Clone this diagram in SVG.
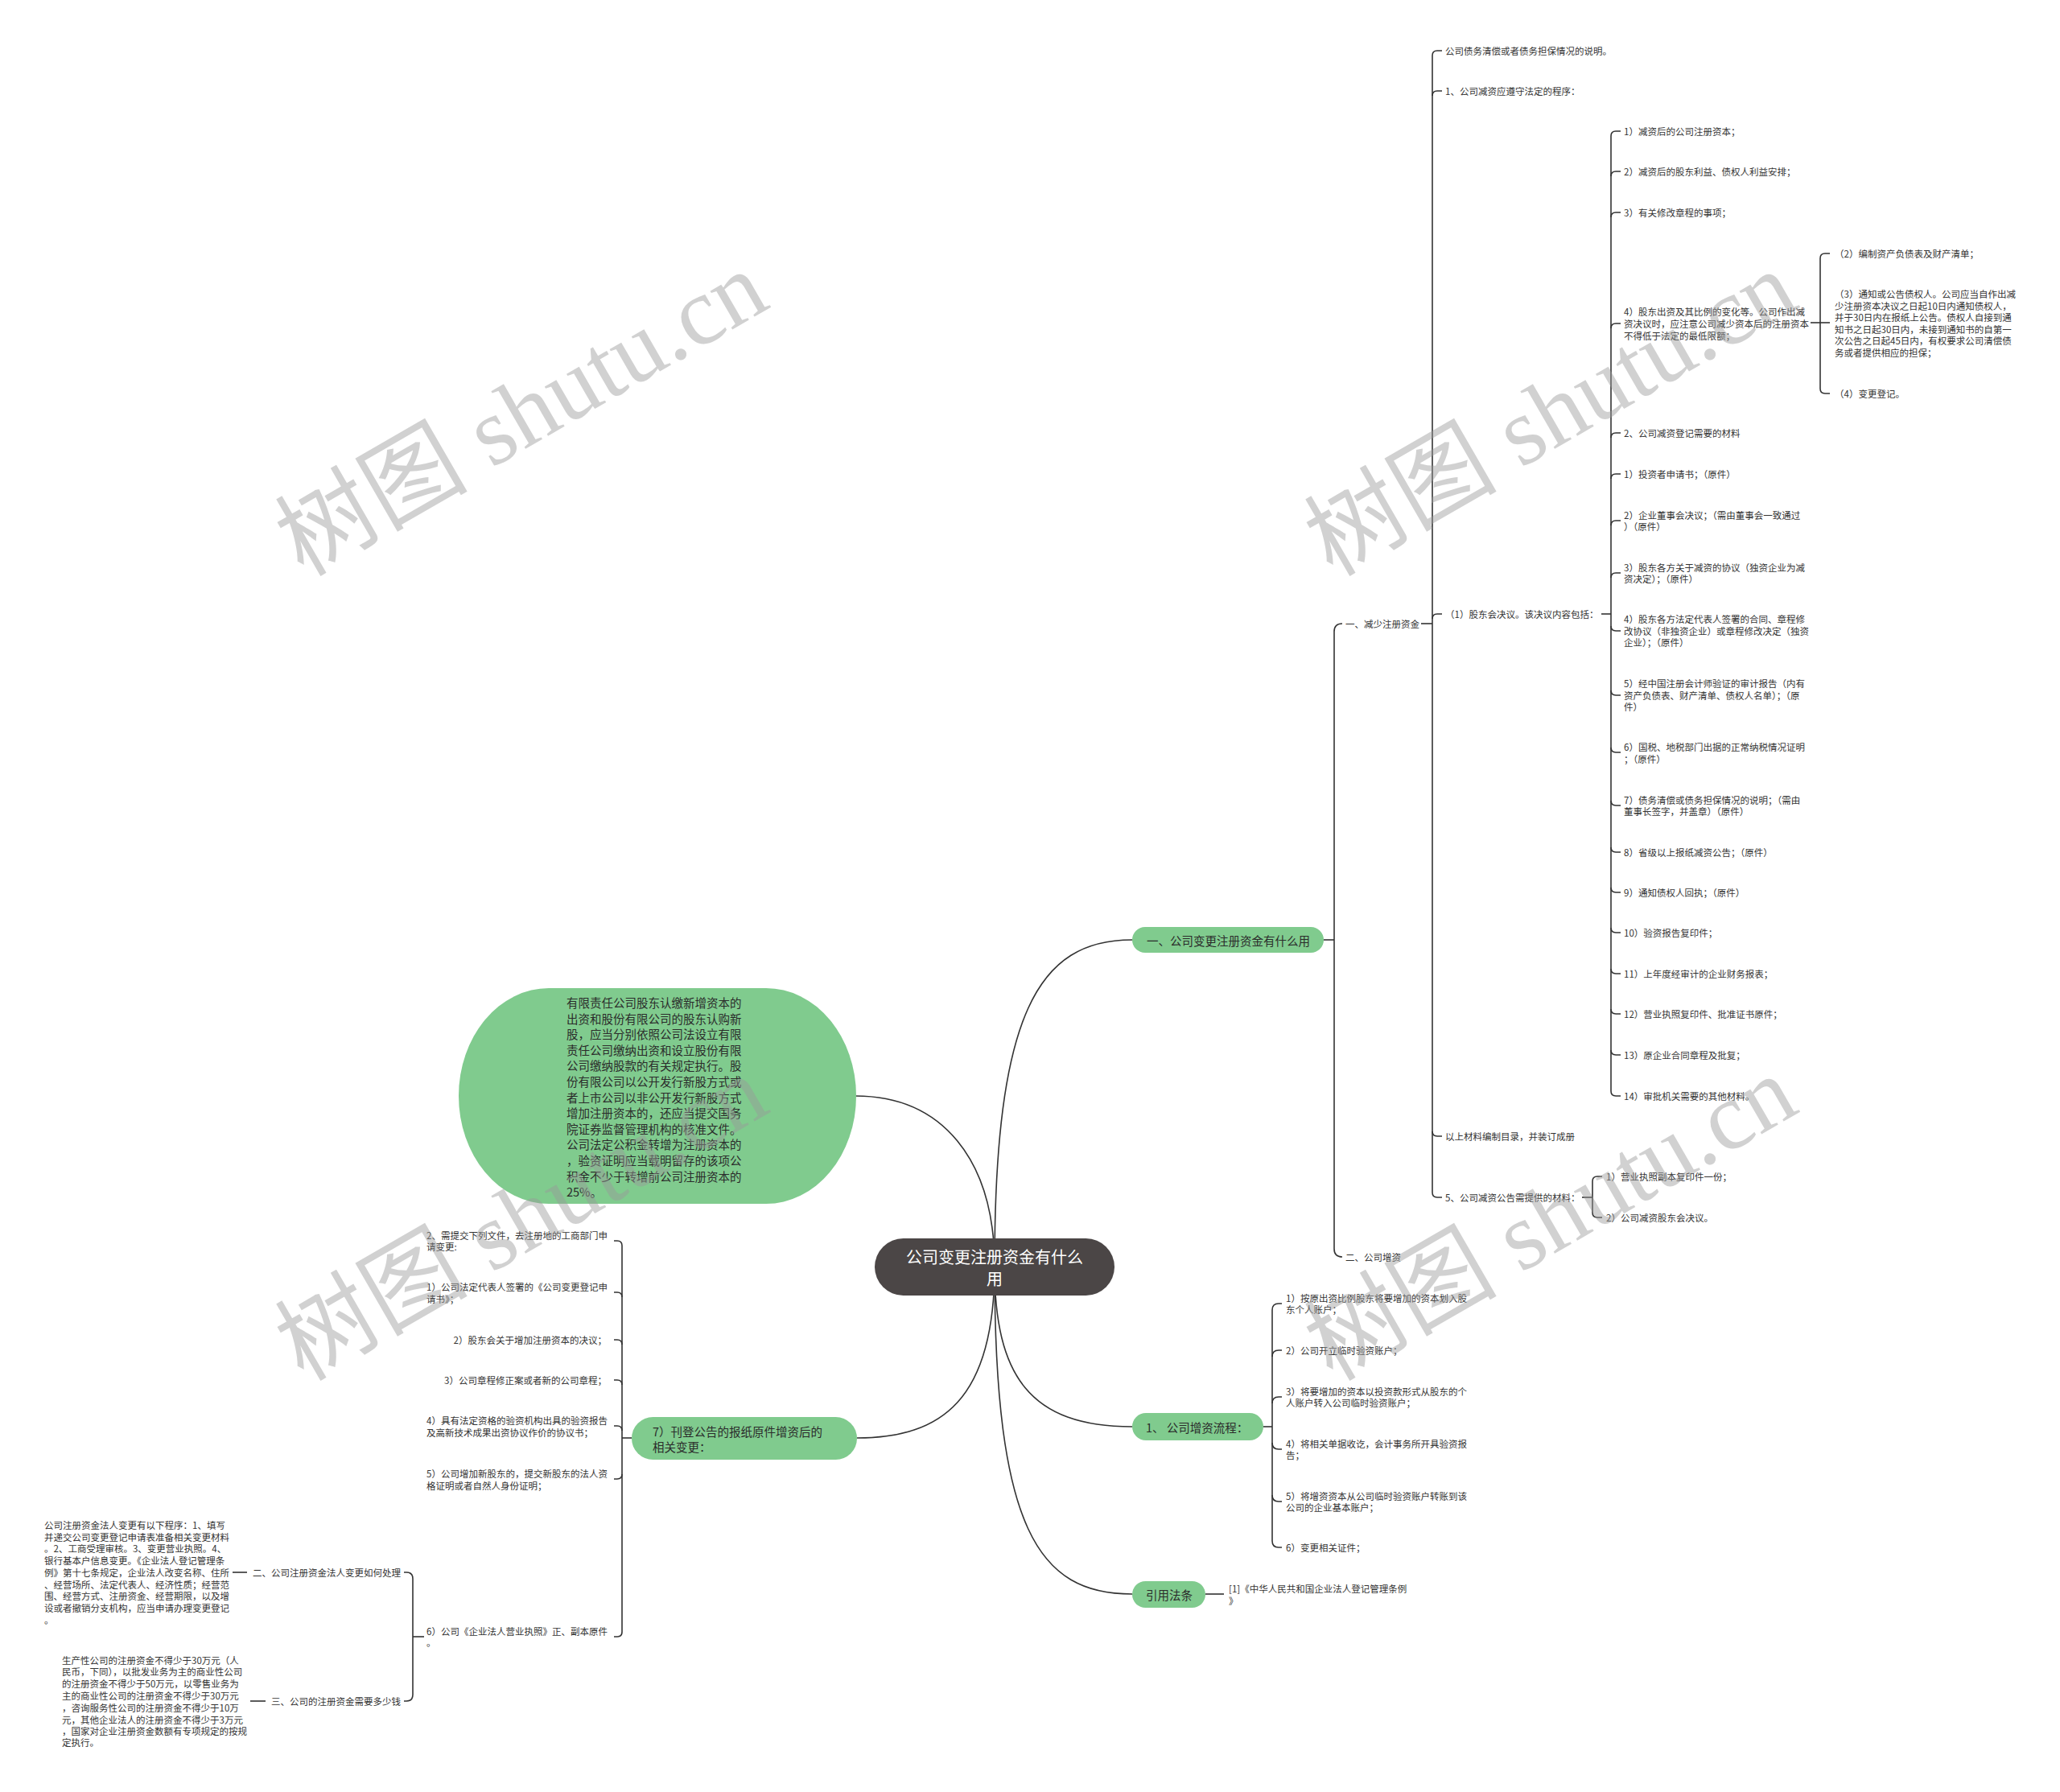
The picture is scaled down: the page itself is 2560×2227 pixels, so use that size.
<svg xmlns="http://www.w3.org/2000/svg" width="2560" height="2227" viewBox="0 0 2560 2227">
<style>
.t{font-family:"Noto Sans CJK SC","Noto Sans",sans-serif;font-size:11.5px;fill:#333;dominant-baseline:central}
.e{text-anchor:end}
.g{font-family:"Noto Sans CJK SC","Noto Sans",sans-serif;font-size:14.5px;fill:#2b2b2b;dominant-baseline:central}
.r{font-family:"Noto Sans CJK SC","Noto Sans",sans-serif;font-size:20px;fill:#ffffff;dominant-baseline:central;text-anchor:middle}
.gn{fill:#80cb8e}
.ln{fill:none;stroke:#333;stroke-width:1.6}
.wm{font-family:"Liberation Serif","Noto Sans CJK SC",serif;font-size:120px;fill:#9a9a9a;opacity:0.45;text-anchor:middle;dominant-baseline:central}
</style>
<rect width="2560" height="2227" fill="#ffffff"/>

<g id="connectors" class="ln">
  <!-- root curves -->
  <path d="M1236,1574 C1236,1260 1290,1168 1407,1168"/>
  <path d="M1236,1574 C1236,1440 1170,1362 1063,1362"/>
  <path d="M1236,1574 C1236,1710 1280,1773 1407,1773"/>
  <path d="M1236,1574 C1236,1900 1290,1981 1407,1981"/>
  <path d="M1236,1574 C1236,1740 1170,1787 1065,1787"/>
  <!-- main right bracket -->
  <path d="M1645,1168 L1658,1168"/>
  <path d="M1658,785 L1658,1552"/>
  <path d="M1658,785 Q1658,775 1668,775"/>
  <path d="M1658,1552 Q1658,1562 1668,1562"/>
  <!-- 一、减少注册资金 bracket -->
  <path d="M1766,775 L1780,775"/>
  <path d="M1780,69 L1780,1482"/>
  <path d="M1780,69 Q1780,63 1786,63 L1792,63"/>
  <path d="M1780,119 Q1780,113 1786,113 L1792,113"/>
  <path d="M1780,769 Q1780,763 1786,763 L1792,763"/>
  <path d="M1780,1406 Q1780,1412 1786,1412 L1792,1412"/>
  <path d="M1780,1482 Q1780,1488 1786,1488 L1792,1488"/>
  <!-- (1) bracket -->
  <path d="M1990,763 L2002,763"/>
  <path d="M2002,169 L2002,1356"/>
  <path d="M2002,169 Q2002,163 2008,163 L2014,163"/>
  <path d="M2002,219 Q2002,213 2008,213 L2014,213"/>
  <path d="M2002,270 Q2002,264 2008,264 L2014,264"/>
  <path d="M2002,408 Q2002,402 2008,402 L2014,402"/>
  <path d="M2002,544 Q2002,538 2008,538 L2014,538"/>
  <path d="M2002,595 Q2002,589 2008,589 L2014,589"/>
  <path d="M2002,653 Q2002,647 2008,647 L2014,647"/>
  <path d="M2002,718 Q2002,712 2008,712 L2014,712"/>
  <path d="M2002,778 Q2002,784 2008,784 L2014,784"/>
  <path d="M2002,858 Q2002,864 2008,864 L2014,864"/>
  <path d="M2002,929 Q2002,935 2008,935 L2014,935"/>
  <path d="M2002,995 Q2002,1001 2008,1001 L2014,1001"/>
  <path d="M2002,1053 Q2002,1059 2008,1059 L2014,1059"/>
  <path d="M2002,1103 Q2002,1109 2008,1109 L2014,1109"/>
  <path d="M2002,1153 Q2002,1159 2008,1159 L2014,1159"/>
  <path d="M2002,1204 Q2002,1210 2008,1210 L2014,1210"/>
  <path d="M2002,1254 Q2002,1260 2008,1260 L2014,1260"/>
  <path d="M2002,1305 Q2002,1311 2008,1311 L2014,1311"/>
  <path d="M2002,1356 Q2002,1362 2008,1362 L2014,1362"/>
  <!-- 4) sub bracket -->
  <path d="M2250,401 L2274,401"/>
  <path d="M2262,321 L2262,483"/>
  <path d="M2262,321 Q2262,315 2268,315 L2274,315"/>
  <path d="M2262,483 Q2262,489 2268,489 L2274,489"/>
  <!-- 5、 bracket -->
  <path d="M1966,1488 L1979,1488"/>
  <path d="M1979,1468 L1979,1507"/>
  <path d="M1979,1468 Q1979,1462 1985,1462 L1991,1462"/>
  <path d="M1979,1507 Q1979,1513 1985,1513 L1991,1513"/>
  <!-- 增资流程 bracket -->
  <path d="M1570,1773 L1581,1773"/>
  <path d="M1581,1628 L1581,1915"/>
  <path d="M1581,1628 Q1581,1620 1589,1620 L1593,1620"/>
  <path d="M1581,1686 Q1581,1678 1589,1678 L1593,1678"/>
  <path d="M1581,1744 Q1581,1736 1589,1736 L1593,1736"/>
  <path d="M1581,1793 Q1581,1801 1589,1801 L1593,1801"/>
  <path d="M1581,1858 Q1581,1866 1589,1866 L1593,1866"/>
  <path d="M1581,1915 Q1581,1923 1589,1923 L1593,1923"/>
  <!-- 引用法条 -->
  <path d="M1498,1981 L1521,1981"/>
  <!-- left bracket of 7) -->
  <path d="M785,1787 L773,1787"/>
  <path d="M773,1548 L773,2028"/>
  <path d="M773,1548 Q773,1542 767,1542 L763,1542"/>
  <path d="M773,1612 Q773,1606 767,1606 L763,1606"/>
  <path d="M773,1671 Q773,1665 767,1665 L763,1665"/>
  <path d="M773,1721 Q773,1715 767,1715 L763,1715"/>
  <path d="M773,1778 Q773,1772 767,1772 L763,1772"/>
  <path d="M773,1832 Q773,1838 767,1838 L763,1838"/>
  <path d="M773,2028 Q773,2034 767,2034 L763,2034"/>
  <!-- 6) bracket -->
  <path d="M527,2034 L513,2034"/>
  <path d="M513,1962 L513,2106"/>
  <path d="M513,1962 Q513,1954 505,1954 L502,1954"/>
  <path d="M513,2106 Q513,2114 505,2114 L502,2114"/>
  <path d="M289,1954 L307,1954"/>
  <path d="M311,2114 L330,2114"/>
</g>

<g id="root">
  <rect x="1087" y="1539" width="298" height="71" rx="35.5" fill="#4b4646"/>
  <text class="r" x="1236" y="1561">公司变更注册资金有什么</text>
  <text class="r" x="1236" y="1588">用</text>
</g>

<g id="n-yi">
  <rect class="gn" x="1407" y="1152" width="238" height="32" rx="16"/>
  <text class="g" x="1425" y="1168">一、公司变更注册资金有什么用</text>
</g>
<g id="n-jianshao"><text class="t" x="1672" y="775">一、减少注册资金</text></g>
<g id="n-zengzi2"><text class="t" x="1672" y="1562">二、公司增资</text></g>

<g id="n-a">
  <text class="t" x="1796" y="63">公司债务清偿或者债务担保情况的说明。</text>
  <text class="t" x="1796" y="113">1、公司减资应遵守法定的程序：</text>
  <text class="t" x="1796" y="763">（1）股东会决议。该决议内容包括：</text>
  <text class="t" x="1796" y="1412">以上材料编制目录，并装订成册</text>
  <text class="t" x="1796" y="1488">5、公司减资公告需提供的材料：</text>
</g>

<g id="n-b">
  <text class="t" x="2018" y="163">1）减资后的公司注册资本；</text>
  <text class="t" x="2018" y="213">2）减资后的股东利益、债权人利益安排；</text>
  <text class="t" x="2018" y="264">3）有关修改章程的事项；</text>
  <text class="t" x="2018" y="387">4）股东出资及其比例的变化等。公司作出减</text>
  <text class="t" x="2018" y="402">资决议时，应注意公司减少资本后的注册资本</text>
  <text class="t" x="2018" y="417">不得低于法定的最低限额；</text>
  <text class="t" x="2018" y="538">2、公司减资登记需要的材料</text>
  <text class="t" x="2018" y="589">1）投资者申请书；（原件）</text>
  <text class="t" x="2018" y="640">2）企业董事会决议；（需由董事会一致通过</text>
  <text class="t" x="2018" y="654">）（原件）</text>
  <text class="t" x="2018" y="705">3）股东各方关于减资的协议（独资企业为减</text>
  <text class="t" x="2018" y="719">资决定）；（原件）</text>
  <text class="t" x="2018" y="769">4）股东各方法定代表人签署的合同、章程修</text>
  <text class="t" x="2018" y="784">改协议（非独资企业）或章程修改决定（独资</text>
  <text class="t" x="2018" y="798">企业）；（原件）</text>
  <text class="t" x="2018" y="849">5）经中国注册会计师验证的审计报告（内有</text>
  <text class="t" x="2018" y="864">资产负债表、财产清单、债权人名单）；（原</text>
  <text class="t" x="2018" y="878">件）</text>
  <text class="t" x="2018" y="928">6）国税、地税部门出据的正常纳税情况证明</text>
  <text class="t" x="2018" y="943">；（原件）</text>
  <text class="t" x="2018" y="994">7）债务清偿或债务担保情况的说明；（需由</text>
  <text class="t" x="2018" y="1008">董事长签字，并盖章）（原件）</text>
  <text class="t" x="2018" y="1059">8）省级以上报纸减资公告；（原件）</text>
  <text class="t" x="2018" y="1109">9）通知债权人回执；（原件）</text>
  <text class="t" x="2018" y="1159">10）验资报告复印件；</text>
  <text class="t" x="2018" y="1210">11）上年度经审计的企业财务报表；</text>
  <text class="t" x="2018" y="1260">12）营业执照复印件、批准证书原件；</text>
  <text class="t" x="2018" y="1311">13）原企业合同章程及批复；</text>
  <text class="t" x="2018" y="1362">14）审批机关需要的其他材料。</text>
</g>

<g id="n-c">
  <text class="t" x="2280" y="315">（2）编制资产负债表及财产清单；</text>
  <text class="t" x="2280" y="365">（3）通知或公告债权人。公司应当自作出减</text>
  <text class="t" x="2280" y="380">少注册资本决议之日起10日内通知债权人，</text>
  <text class="t" x="2280" y="394">并于30日内在报纸上公告。债权人自接到通</text>
  <text class="t" x="2280" y="409">知书之日起30日内，未接到通知书的自第一</text>
  <text class="t" x="2280" y="423">次公告之日起45日内，有权要求公司清偿债</text>
  <text class="t" x="2280" y="438">务或者提供相应的担保；</text>
  <text class="t" x="2280" y="489">（4）变更登记。</text>
</g>

<g id="n-b5">
  <text class="t" x="1996" y="1462">1）营业执照副本复印件一份；</text>
  <text class="t" x="1996" y="1513">2）公司减资股东会决议。</text>
</g>

<g id="n-zengzi">
  <rect class="gn" x="1407" y="1756" width="163" height="34" rx="17"/>
  <text class="g" x="1424" y="1773">1、 公司增资流程：</text>
</g>
<g id="n-zengzi-items">
  <text class="t" x="1598" y="1613">1）按原出资比例股东将要增加的资本划入股</text>
  <text class="t" x="1598" y="1627">东个人账户；</text>
  <text class="t" x="1598" y="1678">2）公司开立临时验资账户；</text>
  <text class="t" x="1598" y="1729">3）将要增加的资本以投资款形式从股东的个</text>
  <text class="t" x="1598" y="1743">人账户转入公司临时验资账户；</text>
  <text class="t" x="1598" y="1794">4）将相关单据收讫，会计事务所开具验资报</text>
  <text class="t" x="1598" y="1808">告；</text>
  <text class="t" x="1598" y="1859">5）将增资资本从公司临时验资账户转账到该</text>
  <text class="t" x="1598" y="1873">公司的企业基本账户；</text>
  <text class="t" x="1598" y="1923">6）变更相关证件；</text>
</g>

<g id="n-fatiao">
  <rect class="gn" x="1407" y="1965" width="91" height="33" rx="16.5"/>
  <text class="g" x="1424" y="1981">引用法条</text>
  <text class="t" x="1527" y="1974">[1]《中华人民共和国企业法人登记管理条例</text>
  <text class="t" x="1527" y="1989">》</text>
</g>

<g id="n-big">
  <rect class="gn" x="570" y="1228" width="494" height="268" rx="112" ry="134"/>
  <text class="g" x="704">
    <tspan x="704" y="1245">有限责任公司股东认缴新增资本的</tspan>
    <tspan x="704" y="1264.6">出资和股份有限公司的股东认购新</tspan>
    <tspan x="704" y="1284.2">股，应当分别依照公司法设立有限</tspan>
    <tspan x="704" y="1303.8">责任公司缴纳出资和设立股份有限</tspan>
    <tspan x="704" y="1323.4">公司缴纳股款的有关规定执行。股</tspan>
    <tspan x="704" y="1343">份有限公司以公开发行新股方式或</tspan>
    <tspan x="704" y="1362.6">者上市公司以非公开发行新股方式</tspan>
    <tspan x="704" y="1382.2">增加注册资本的，还应当提交国务</tspan>
    <tspan x="704" y="1401.8">院证券监督管理机构的核准文件。</tspan>
    <tspan x="704" y="1421.4">公司法定公积金转增为注册资本的</tspan>
    <tspan x="704" y="1441">，验资证明应当载明留存的该项公</tspan>
    <tspan x="704" y="1460.6">积金不少于转增前公司注册资本的</tspan>
    <tspan x="704" y="1480.2">25%。</tspan>
  </text>
</g>

<g id="n-7">
  <rect class="gn" x="785" y="1761" width="280" height="53" rx="26.5"/>
  <text class="g" x="811" y="1778">7）刊登公告的报纸原件增资后的</text>
  <text class="g" x="811" y="1797">相关变更：</text>
</g>

<g id="n-7-items">
  <text class="t" x="530" y="1535">2、需提交下列文件，去注册地的工商部门申</text>
  <text class="t" x="530" y="1549">请变更:</text>
  <text class="t" x="530" y="1599">1）公司法定代表人签署的《公司变更登记申</text>
  <text class="t" x="530" y="1614">请书》；</text>
  <text class="t e" x="754" y="1665">2）股东会关于增加注册资本的决议；</text>
  <text class="t e" x="754" y="1715">3）公司章程修正案或者新的公司章程；</text>
  <text class="t" x="530" y="1765">4）具有法定资格的验资机构出具的验资报告</text>
  <text class="t" x="530" y="1780">及高新技术成果出资协议作价的协议书；</text>
  <text class="t" x="530" y="1831">5）公司增加新股东的，提交新股东的法人资</text>
  <text class="t" x="530" y="1846">格证明或者自然人身份证明；</text>
  <text class="t" x="530" y="2027">6）公司《企业法人营业执照》正、副本原件</text>
  <text class="t" x="530" y="2041">。</text>
</g>

<g id="n-er">
  <text class="t e" x="498" y="1954">二、公司注册资金法人变更如何处理</text>
  <text class="t" x="55">
    <tspan x="55" y="1895">公司注册资金法人变更有以下程序：1、填写</tspan>
    <tspan x="55" y="1910">并递交公司变更登记申请表准备相关变更材料</tspan>
    <tspan x="55" y="1924">。2、工商受理审核。3、变更营业执照。4、</tspan>
    <tspan x="55" y="1939">银行基本户信息变更。《企业法人登记管理条</tspan>
    <tspan x="55" y="1954">例》第十七条规定，企业法人改变名称、住所</tspan>
    <tspan x="55" y="1969">、经营场所、法定代表人、经济性质；经营范</tspan>
    <tspan x="55" y="1983">围、经营方式、注册资金、经营期限，以及增</tspan>
    <tspan x="55" y="1998">设或者撤销分支机构，应当申请办理变更登记</tspan>
    <tspan x="55" y="2013">。</tspan>
  </text>
</g>

<g id="n-san">
  <text class="t e" x="498" y="2114">三、公司的注册资金需要多少钱</text>
  <text class="t" x="77">
    <tspan x="77" y="2063">生产性公司的注册资金不得少于30万元（人</tspan>
    <tspan x="77" y="2077">民币，下同），以批发业务为主的商业性公司</tspan>
    <tspan x="77" y="2092">的注册资金不得少于50万元，以零售业务为</tspan>
    <tspan x="77" y="2107">主的商业性公司的注册资金不得少于30万元</tspan>
    <tspan x="77" y="2122">，咨询服务性公司的注册资金不得少于10万</tspan>
    <tspan x="77" y="2137">元，其他企业法人的注册资金不得少于3万元</tspan>
    <tspan x="77" y="2151">，国家对企业注册资金数额有专项规定的按规</tspan>
    <tspan x="77" y="2165">定执行。</tspan>
  </text>
</g>

<g id="watermarks">
  <text class="wm" x="648" y="514" transform="rotate(-30 648 514)">树图 shutu.cn</text>
  <text class="wm" x="1927" y="514" transform="rotate(-30 1927 514)">树图 shutu.cn</text>
  <text class="wm" x="648" y="1514" transform="rotate(-30 648 1514)">树图 shutu.cn</text>
  <text class="wm" x="1927" y="1514" transform="rotate(-30 1927 1514)">树图 shutu.cn</text>
</g>
</svg>
